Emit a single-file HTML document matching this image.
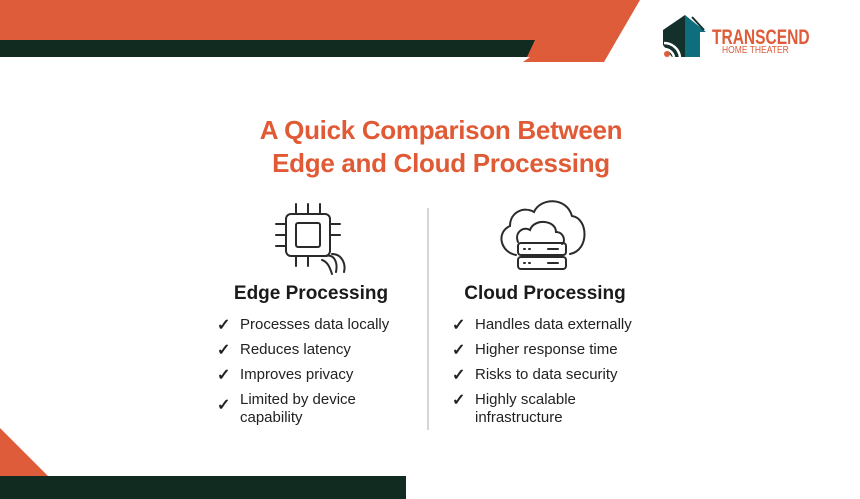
<!DOCTYPE html>
<html><head><meta charset="utf-8"><style>
body{margin:0;width:860px;height:499px;overflow:hidden;background:#fff;font-family:"Liberation Sans",sans-serif;position:relative}
.t{position:absolute;white-space:nowrap}
.title{left:0;width:882px;text-align:center;color:#E05A35;font-weight:bold;font-size:26px;letter-spacing:-0.3px}
.h{font-weight:bold;font-size:19px;color:#1a1a1a;text-align:center;width:240px}
.li{font-size:15px;color:#222;line-height:18px}
.ck{position:absolute;font-size:16px;font-weight:bold;color:#222}
</style></head><body>
<svg width="860" height="499" style="position:absolute;left:0;top:0">
<polygon points="0,0 640,0 604,62 523,62 530,57 0,57" fill="#DE5C39"/>
<polygon points="0,40 535,40 527,57 0,57" fill="#122B20"/>
<polygon points="0,428 48,476 0,476" fill="#DE5C39"/>
<rect x="0" y="476" width="406" height="23" fill="#122B20"/>
<line x1="428" y1="208" x2="428" y2="430" stroke="#c8c8c8" stroke-width="1.5"/>
<polygon points="663,45 663,30 685,15 685,57 672,57" fill="#14302A"/>
<polygon points="685,15 706,32 700,32 700,57 685,57" fill="#0F6E7E"/>
<line x1="692" y1="17" x2="704" y2="30" stroke="#14302A" stroke-width="2"/>
<path d="M664,43 A16,16 0 0 1 680,57" fill="none" stroke="#fff" stroke-width="2.5"/>
<path d="M664,49 A10,10 0 0 1 674,57" fill="none" stroke="#fff" stroke-width="2.5"/>
<circle cx="667" cy="54" r="3" fill="#DE5C39"/>
<g fill="none" stroke="#2a2a2a" stroke-width="2" stroke-linecap="round">
<rect x="286" y="214" width="44" height="42" rx="5"/>
<rect x="296" y="223" width="24" height="24" rx="2"/>
<line x1="296" y1="204" x2="296" y2="214"/><line x1="308" y1="204" x2="308" y2="214"/><line x1="320" y1="204" x2="320" y2="214"/>
<line x1="296" y1="256" x2="296" y2="266"/><line x1="308" y1="256" x2="308" y2="266"/>
<line x1="276" y1="224" x2="286" y2="224"/><line x1="276" y1="235" x2="286" y2="235"/><line x1="276" y1="246" x2="286" y2="246"/>
<line x1="330" y1="224" x2="340" y2="224"/><line x1="330" y1="235" x2="340" y2="235"/>
<path d="M326,256 C334,254 338,262 336,272"/>
<path d="M332,254 C342,254 346,264 344,272"/>
<path d="M322,260 C328,262 330,268 332,274"/>
</g>
<g fill="none" stroke="#2a2a2a" stroke-width="2" stroke-linecap="round">
<path d="M516,255 C500,252 496,232 510,226 C510,212 524,206 534,212 C540,198 566,196 572,216 C588,218 590,250 570,254"/>
<path d="M518,242 C514,232 524,226 530,230 C534,218 556,220 556,232 C564,232 566,242 562,244"/>
<rect x="518" y="243" width="48" height="12" rx="3"/>
<rect x="518" y="257" width="48" height="12" rx="3"/>
<line x1="548" y1="249" x2="558" y2="249"/><line x1="548" y1="263" x2="558" y2="263"/>
<line x1="524" y1="249" x2="525" y2="249"/><line x1="529" y1="249" x2="530" y2="249"/>
<line x1="524" y1="263" x2="525" y2="263"/><line x1="529" y1="263" x2="530" y2="263"/>
</g>
</svg>
<div class="t" style="left:712px;top:26px;color:#DE5C39;font-weight:bold;font-size:21px;transform:scaleX(0.74);transform-origin:left">TRANSCEND</div>
<div class="t" style="left:722px;top:45px;color:#DE5C39;font-size:10px;transform:scaleX(0.85);transform-origin:left">HOME THEATER</div>
<div class="t title" style="top:115px">A Quick Comparison Between</div>
<div class="t title" style="top:148px">Edge and Cloud Processing</div>
<div class="t h" style="left:191px;top:283px">Edge Processing</div>
<div class="t h" style="left:425px;top:283px">Cloud Processing</div>
<div class="ck" style="left:217px;top:315px">✓</div><div class="t li" style="left:240px;top:316px">Processes data locally</div>
<div class="ck" style="left:217px;top:340px">✓</div><div class="t li" style="left:240px;top:341px">Reduces latency</div>
<div class="ck" style="left:217px;top:365px">✓</div><div class="t li" style="left:240px;top:366px">Improves privacy</div>
<div class="ck" style="left:217px;top:395px">✓</div><div class="t li" style="left:240px;top:391px">Limited by device<br>capability</div>
<div class="ck" style="left:452px;top:315px">✓</div><div class="t li" style="left:475px;top:316px">Handles data externally</div>
<div class="ck" style="left:452px;top:340px">✓</div><div class="t li" style="left:475px;top:341px">Higher response time</div>
<div class="ck" style="left:452px;top:365px">✓</div><div class="t li" style="left:475px;top:366px">Risks to data security</div>
<div class="ck" style="left:452px;top:390px">✓</div><div class="t li" style="left:475px;top:391px">Highly scalable<br>infrastructure</div>
</body></html>
